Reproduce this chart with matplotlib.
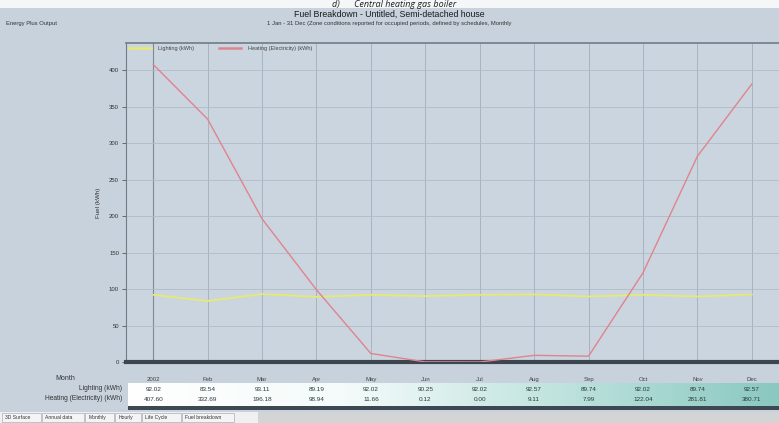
import numpy as np
import matplotlib
matplotlib.use("Agg")
import matplotlib.pyplot as plt
from matplotlib.colors import LinearSegmentedColormap
from matplotlib.patches import Rectangle

plt.rcParams["font.family"] = ["Liberation Sans", "DejaVu Sans"]

months = ["2002", "Feb", "Mar", "Apr", "May", "Jun", "Jul", "Aug", "Sep", "Oct", "Nov", "Dec"]
lighting = [92.02, 83.54, 93.11, 89.19, 92.02, 90.25, 92.02, 92.57, 89.74, 92.02, 89.74, 92.57]
heating = [407.60, 332.69, 196.18, 98.94, 11.66, 0.12, 0.00, 9.11, 7.99, 122.04, 281.81, 380.71]
y_ticks = [0, 50, 100, 150, 200, 250, 300, 350, 400]
series_labels = ["Lighting (kWh)", "Heating (Electricity) (kWh)"]
tabs = ["3D Surface", "Annual data", "Monthly", "Hourly", "Life Cycle", "Fuel breakdown"]

W, H = 779, 423
fig = plt.figure(figsize=(W / 100, H / 100), dpi=100)
PANEL = "#c7d2dd"
fig.patch.set_facecolor(PANEL)


def box(x0, y0, x1, y1):
    """Convert pixel box (top-left origin) to figure fraction rect."""
    return [x0 / W, 1 - y1 / H, (x1 - x0) / W, (y1 - y0) / H]


# full-figure overlay axes for headers, strips and tabs
over = fig.add_axes([0, 0, 1, 1], zorder=5)
over.set_xlim(0, W)
over.set_ylim(H, 0)
over.axis("off")
over.patch.set_alpha(0)

# white page strip at the top
over.add_patch(Rectangle((0, 0), W, 8, facecolor="#f4f6f8", edgecolor="none"))
over.text(W / 2 + 5, 4.5, "d)      Central heating gas boiler", ha="center", va="center",
          fontsize=6.5, style="italic", color="#222222", family=["Open Sans", "DejaVu Sans"])
over.text(W / 2, 14, "Fuel Breakdown - Untitled, Semi-detached house", ha="center", va="center",
          fontsize=6.3, color="#1a1a1a")
over.text(W / 2, 23, "1 Jan - 31 Dec (Zone conditions reported for occupied periods, defined by schedules, Monthly",
          ha="center", va="center", fontsize=4.2, color="#333333")
over.text(6, 23, "Energy Plus Output", ha="left", va="center", fontsize=4.2, color="#333333")

# main plot
ax = fig.add_axes(box(126, 43, 779, 362), zorder=2)
ax.set_facecolor("#cad5e0")
x = np.arange(len(months))
ax.set_xlim(-0.5, 11.5)
ax.set_ylim(0, 437)
ax.set_yticks(y_ticks)
ax.set_yticklabels([str(v) for v in y_ticks], fontsize=4.3, color="#333333")
ax.set_xticks([])
ax.tick_params(axis="y", length=3, width=0.6, color="#555555", pad=2)
ax.grid(False)
for xi in x:
    ax.axvline(xi, color="#a8b3bf", lw=0.7, zorder=1)
ax.axvline(0, color="#7e8a96", lw=0.8, zorder=1)
for yv in y_ticks[1:]:
    ax.axhline(yv, color="#b0bbc7", lw=0.6, zorder=1)
ax.spines["right"].set_visible(False)
ax.spines["left"].set_color("#6f7b87")
ax.spines["left"].set_linewidth(0.8)
ax.spines["top"].set_color("#6f7b87")
ax.spines["top"].set_linewidth(1.2)
ax.spines["bottom"].set_color("#3c4650")
ax.spines["bottom"].set_linewidth(3.0)

ax.plot(x, lighting, color="#e6ea72", lw=1.3, zorder=3, label=series_labels[0])
ax.plot(x, heating, color="#e0848c", lw=1.0, zorder=3, label=series_labels[1])
ax.set_ylabel("Fuel (kWh)", fontsize=4.5, color="#333333", labelpad=6)

leg = ax.legend(loc="upper left", bbox_to_anchor=(0.0, 1.0), ncol=2, frameon=False,
                fontsize=4.0, handlelength=4.0, borderaxespad=0.15, columnspacing=4.5,
                handletextpad=1.2)
for t in leg.get_texts():
    t.set_color("#444444")
for ln in leg.get_lines():
    ln.set_linewidth(1.8)

# month labels under axis
for xi, m in zip(x, months):
    ax.text(xi, -24, m, ha="center", va="center", fontsize=4.3, color="#444444", clip_on=False)
over.text(75, 379, "Month", ha="right", va="center", fontsize=5, color="#333333")

# data table with white-to-teal gradient
tab = fig.add_axes(box(128, 383, 779, 407), zorder=2)
tab.set_xlim(-0.5 + 2 / 54.45, 11.5)
tab.set_ylim(0, 1)
tab.axis("off")
cmap = LinearSegmentedColormap.from_list("tbl", ["#ffffff", "#f4fbfa", "#bfe3de", "#8ac8c0"])
grad = np.linspace(0, 1, 256).reshape(1, -1)
tab.imshow(grad, aspect="auto", cmap=cmap, extent=[-0.5, 11.5, 0, 1], zorder=0)
for xi, lv, hv in zip(x, lighting, heating):
    tab.text(xi, 0.72, f"{lv:.2f}", ha="center", va="center", fontsize=4.6, color="#2a3a3a")
    tab.text(xi, 0.32, f"{hv:.2f}", ha="center", va="center", fontsize=4.6, color="#2a3a3a")
over.text(122, 389, series_labels[0], ha="right", va="center", fontsize=4.8, color="#333333")
over.text(122, 398, series_labels[1], ha="right", va="center", fontsize=4.8, color="#333333")

# dark strip under the table
over.add_patch(Rectangle((128, 406), W - 128, 4, facecolor="#3e4852", edgecolor="none"))

# bottom tab bar
over.add_patch(Rectangle((0, 412), W, 11, facecolor="#d2d4d6", edgecolor="none"))
over.add_patch(Rectangle((0, 412), 258, 11, facecolor="#eef0f2", edgecolor="none"))
tx = 2
for name in tabs:
    w = len(name) * 3.3 + 6
    over.add_patch(Rectangle((tx, 413), w, 9, facecolor="#f3f4f5", edgecolor="#9aa0a6", lw=0.4))
    over.text(tx + 3, 417.5, name, ha="left", va="center", fontsize=3.6, color="#333333")
    tx += w + 1

fig.savefig("out.png", dpi=100, facecolor=fig.get_facecolor())
